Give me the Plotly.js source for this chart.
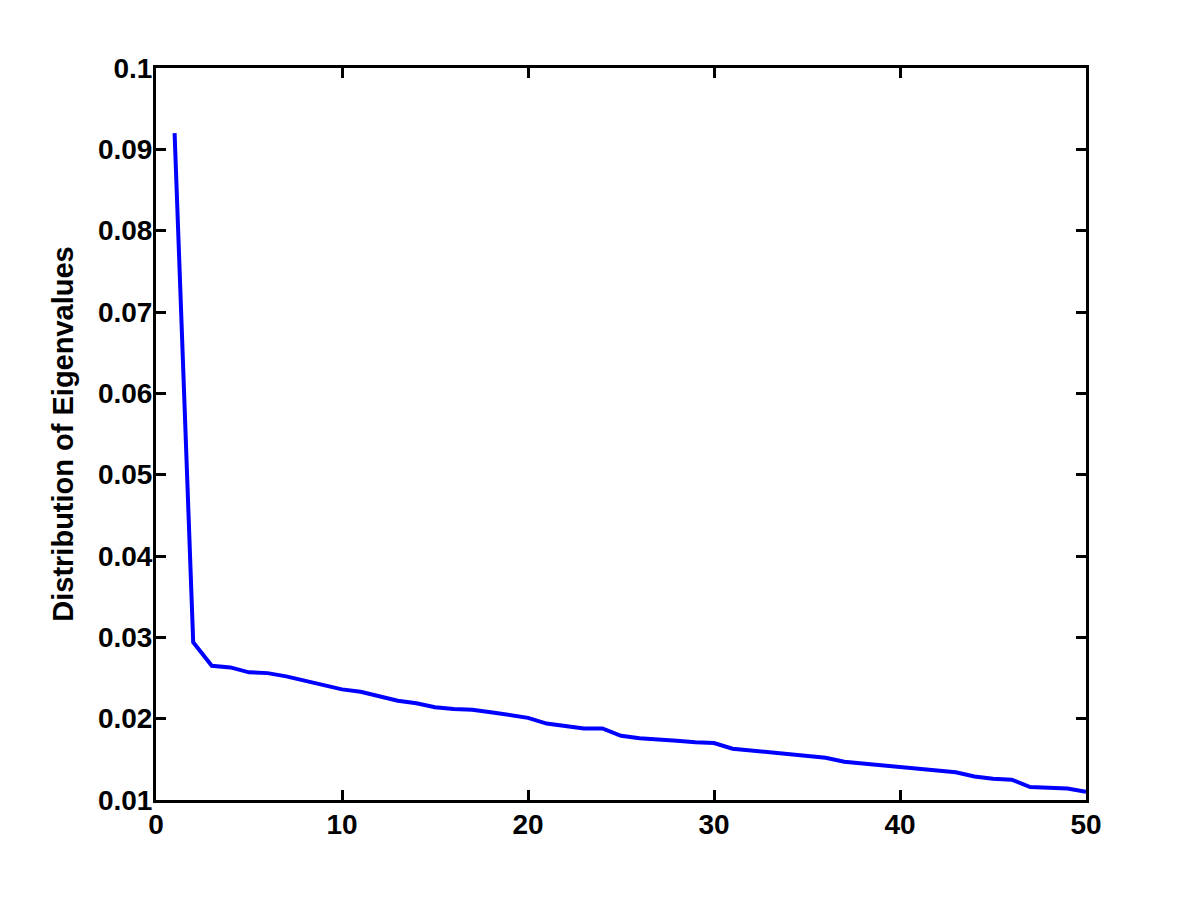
<!DOCTYPE html>
<html>
<head>
<meta charset="utf-8">
<script src="https://cdn.plot.ly/plotly-3.0.1.min.js"></script>
<style>
  html, body { margin: 0; padding: 0; background: #fff; }
  #plot { width: 1200px; height: 900px; }
</style>
</head>
<body>
<div id="plot"></div>
<script>
// eigenvalue index and its share of the total
const index = [];
for (let i = 1; i <= 50; i++) index.push(i);

const eigShare = [
  0.0920, 0.0294, 0.0265, 0.0263, 0.0257, 0.0256, 0.0252, 0.0247, 0.0242, 0.0236,
  0.0233, 0.0227, 0.0222, 0.0219, 0.0214, 0.0212, 0.0211, 0.0208, 0.0204, 0.0201,
  0.0194, 0.0191, 0.0188, 0.0188, 0.0179, 0.0176, 0.0175, 0.0173, 0.0171, 0.0170,
  0.0163, 0.0161, 0.0159, 0.0157, 0.0155, 0.0152, 0.0147, 0.0145, 0.0143, 0.0141,
  0.0139, 0.0137, 0.0134, 0.0129, 0.0126, 0.0125, 0.0116, 0.0115, 0.0114, 0.0110
];

const xTicks = [0, 10, 20, 30, 40, 50];
const yTicks = [0.01, 0.02, 0.03, 0.04, 0.05, 0.06, 0.07, 0.08, 0.09, 0.1];
const yTickText = ['0.01', '0.02', '0.03', '0.04', '0.05', '0.06', '0.07', '0.08', '0.09', '0.1'];

const trace = {
  x: index,
  y: eigShare,
  mode: 'lines',
  type: 'scatter',
  line: { color: '#0000ff', width: 4 },
  hoverinfo: 'skip'
};

const tickFont = { family: 'Liberation Sans, Arial, sans-serif', size: 28, color: '#000', weight: 'bold' };

const axisCommon = {
  showline: true,
  linecolor: '#000',
  linewidth: 3,
  mirror: 'ticks',
  ticks: 'inside',
  ticklen: 10,
  tickwidth: 3,
  tickcolor: '#000',
  showgrid: false,
  zeroline: false,
  tickfont: tickFont
};

const layout = {
  width: 1200,
  height: 900,
  margin: { l: 156, r: 114, t: 68, b: 100 },
  paper_bgcolor: '#fff',
  plot_bgcolor: '#fff',
  showlegend: false,
  font: { family: 'Liberation Sans, Arial, sans-serif', color: '#000', weight: 'bold' },
  xaxis: Object.assign({}, axisCommon, {
    range: [0, 50],
    tickvals: xTicks,
    ticktext: xTicks.map(String),
    ticklabelstandoff: -3
  }),
  yaxis: Object.assign({}, axisCommon, {
    range: [0.01, 0.1],
    tickvals: yTicks,
    ticktext: yTickText,
    ticklabelstandoff: -5,
    title: { text: 'Distribution of Eigenvalues', font: { size: 29, weight: 'bold' }, standoff: 16 }
  })
};

Plotly.newPlot('plot', [trace], layout, { staticPlot: true });
</script>
</body>
</html>
